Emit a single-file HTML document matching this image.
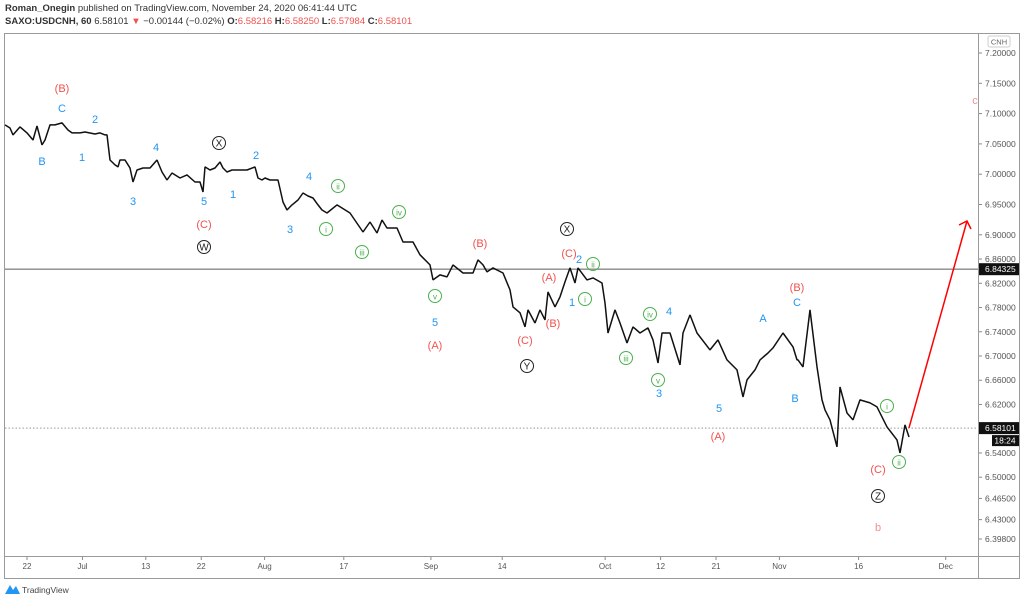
<!DOCTYPE html>
<html><head><meta charset="utf-8">
<style>
html,body{margin:0;padding:0;background:#fff;width:1024px;height:600px;overflow:hidden}
body{font-family:"Liberation Sans",sans-serif}
#hdr1{position:absolute;left:5px;top:3px;font-size:9.5px;color:#333}
#hdr2{position:absolute;left:5px;top:16px;font-size:9.5px;color:#333}
.r{color:#f0524f}
svg{position:absolute;left:0;top:0}
</style></head><body>
<div id="hdr1"><b>Roman_Onegin</b> published on TradingView.com, November 24, 2020 06:41:44 UTC</div>
<div id="hdr2"><b>SAXO:USDCNH, 60</b> 6.58101 <span class="r">▼</span> −0.00144 (−0.02%) <b>O:</b><span class="r">6.58216</span> <b>H:</b><span class="r">6.58250</span> <b>L:</b><span class="r">6.57984</span> <b>C:</b><span class="r">6.58101</span></div>
<svg id="chart" width="1024" height="600"></svg>
<script>
// trading-day index since Jun 22 and prices
const tradingDays=[-2.78,-2.15,-1.77,-0.88,0,0.76,1.26,1.89,2.27,2.90,3.54,4.42,5.18,5.68,6.69,7.32,8.59,9.22,9.85,10.10,10.48,11.11,11.49,11.74,12.37,13.01,13.38,13.89,14.65,15.53,16.41,17.05,17.68,18.31,19.32,20.20,21.21,21.84,22.22,22.47,23.11,23.74,24.37,24.75,25.25,25.88,26.89,27.78,28.79,29.17,29.67,30.05,30.68,31.69,32.32,32.83,33.46,34.22,34.85,35.48,36.11,36.74,37.25,37.88,39.14,40.78,42.42,43.31,44.19,44.82,45.45,46.72,47.47,48.74,49.62,50.88,51.26,52.15,53.03,53.79,55.05,56.31,56.94,57.58,58.08,58.84,60.10,60.98,61.36,62.25,62.88,63.26,64.14,64.77,65.40,65.78,66.67,67.30,67.93,68.56,69.19,69.57,70.71,71.46,72.60,72.98,73.36,74.24,74.87,75.76,76.52,77.40,78.41,79.04,79.67,80.18,81.19,82.45,82.83,83.71,84.60,86.24,87.25,88.38,89.65,90.40,90.91,91.92,92.55,93.56,94.19,95.45,96.72,97.22,97.35,97.98,98.86,99.75,100.38,100.76,101.39,102.27,102.65,103.54,104.29,105.18,106.44,107.32,108.59,109.85,110.23,110.86,111.36];
const prices=[7.0813,7.0763,7.0648,7.0780,7.0681,7.0565,7.0796,7.0483,7.0565,7.0813,7.0813,7.0846,7.073,7.0681,7.0681,7.0697,7.0664,7.0681,7.0648,7.0648,7.0235,7.0153,7.012,7.0235,7.0235,7.0103,6.9872,7.007,7.0103,7.0103,7.0235,7.0037,6.9905,7.002,6.9938,6.9988,6.9872,6.9872,6.9707,7.012,7.007,7.0103,7.0202,7.0103,7.0037,7.007,7.007,7.007,7.012,6.9938,6.9905,6.9938,6.9905,6.9905,6.9542,6.941,6.9493,6.9575,6.969,6.9641,6.9608,6.9493,6.941,6.936,6.9493,6.936,6.9047,6.9212,6.903,6.9245,6.9113,6.9113,6.8882,6.8882,6.867,6.8503,6.8255,6.8338,6.8305,6.8503,6.837,6.837,6.8585,6.8503,6.8387,6.8453,6.837,6.809,6.781,6.7713,6.748,6.776,6.7545,6.776,6.7595,6.8057,6.781,6.7975,6.8222,6.8453,6.8205,6.8453,6.8255,6.8288,6.8205,6.7875,6.738,6.776,6.7545,6.7215,6.748,6.738,6.7463,6.7265,6.6885,6.738,6.738,6.6853,6.738,6.7678,6.738,6.71,6.7265,6.6935,6.677,6.6325,6.6605,6.677,6.6935,6.705,6.7133,6.738,6.7150,6.6935,6.6935,6.682,6.7760,6.682,6.6275,6.611,6.5945,6.5500,6.649,6.606,6.5945,6.6275,6.6226,6.616,6.583,6.5615,6.54,6.5863,6.5663,6.55,6.5813,6.5813];
const priceTicks=[7.25,7.20,7.15,7.10,7.05,7.00,6.95,6.90,6.86,6.82,6.78,6.74,6.70,6.66,6.62,6.54,6.50,6.465,6.43,6.398];
const dateTickLabels=["22","Jul","13","22","Aug","17","Sep","14","Oct","12","21","Nov","16","Dec"];
const dateTickDays=[0,7,15,22,30,40,51,60,73,80,87,95,105,116];
const lastPrice=6.58101, levelPrice=6.84325;

const NS="http://www.w3.org/2000/svg";
const svg=document.getElementById('chart');
const X=t=>27+7.92*t;
const Y=p=>53+(7.2-p)*606;
function mk(tag,attrs,parent){const e=document.createElementNS(NS,tag);for(const k in attrs)e.setAttribute(k,attrs[k]);(parent||svg).appendChild(e);return e;}
function txt(x,y,s,fill,size,anchor){const e=mk('text',{x:x,y:y,fill:fill,'font-size':size,'text-anchor':anchor||'middle','font-family':'Liberation Sans, sans-serif'});e.textContent=s;return e;}

let f=mk('rect',{x:4.5,y:33.5,width:1015,height:545,fill:'none',stroke:'#9a9a9a'});


let ax=mk('line',{x1:978.5,y1:33,x2:978.5,y2:579,stroke:'#9a9a9a'});


let bx=mk('line',{x1:4,y1:556.5,x2:1020,y2:556.5,stroke:'#9a9a9a'});



priceTicks.forEach(p=>{const y=Y(p);if(y<36)return;
 const l=mk('line',{x1:979,y1:y,x2:982,y2:y,stroke:'#888'});
 
 
 const t=txt(985,y+3,p.toFixed(p===6.465||p===6.398?3:2)+(p===6.465||p===6.398?'00':'000'),'#555',8.5,'start');
 
 
});
let cb=mk('rect',{x:988,y:36,width:22,height:11,fill:'#fff',stroke:'#ccc',rx:2});


let ct=txt(999,44.5,'CNH','#666',7.5);



dateTickDays.forEach((d,i)=>{const x=X(d);
 const l=mk('line',{x1:x,y1:557,x2:x,y2:560,stroke:'#888'});
 
 
 const t=txt(x,569,dateTickLabels[i],'#555',8);
 
 
});

let hl=mk('line',{x1:5,y1:Y(levelPrice),x2:978,y2:Y(levelPrice),stroke:'#888','stroke-width':1.3});


let dl=mk('line',{x1:5,y1:Y(lastPrice),x2:978,y2:Y(lastPrice),stroke:'#999','stroke-dasharray':'1.5 2'});



let d='';tradingDays.forEach((t,i)=>{d+=(i?'L':'M')+X(t).toFixed(1)+' '+Y(prices[i]).toFixed(1);});
let pl=mk('path',{d:d,fill:'none',stroke:'#111','stroke-width':1.5,'stroke-linejoin':'bevel'});



const lastT=tradingDays[tradingDays.length-1], lp=prices[prices.length-1];
const ex=967, ey=221;
let ar=mk('path',{d:`M${X(lastT)} ${Y(lp)}L${ex} ${ey}M${ex-8} ${ey+4}L${ex} ${ey}L${ex+4} ${ey+8}`,fill:'none',stroke:'#f00','stroke-width':1.5});



let b1=mk('rect',{x:979,y:Y(levelPrice)-6,width:40,height:12,fill:'#111'});


let b1t=txt(985,Y(levelPrice)+3,'6.84325','#fff',8.5,'start');


let b2=mk('rect',{x:979,y:Y(lastPrice)-6,width:40,height:12,fill:'#111'});


let b2t=txt(985,Y(lastPrice)+3,'6.58101','#fff',8.5,'start');


let b3=mk('rect',{x:992,y:Y(lastPrice)+7,width:27,height:11,fill:'#111'});


let b3t=txt(1005,Y(lastPrice)+15.5,'18:24','#fff',8.5);



const R='#f0524f',B='#2196f3',G='#4caf50',K='#222',P='#f48f8f';
const labels=[[62,88,'(B)',R],[62,108,'C',B],[42,161,'B',B],[82,157,'1',B],[95,119,'2',B],[133,201,'3',B],[156,147,'4',B],[204,201,'5',B],[204,224,'(C)',R],[204,247,'W','c'],[219,143,'X','c'],[233,194,'1',B],[256,155,'2',B],[309,176,'4',B],[290,229,'3',B],[338,186,'ii','g'],[326,229,'i','g'],[399,212,'iv','g'],[362,252,'iii','g'],[435,296,'v','g'],[435,322,'5',B],[435,345,'(A)',R],[480,243,'(B)',R],[567,229,'X','c'],[569,253,'(C)',R],[579,259,'2',B],[593,264,'ii','g'],[549,277,'(A)',R],[572,302,'1',B],[585,299,'i','g'],[553,323,'(B)',R],[525,340,'(C)',R],[527,366,'Y','c'],[650,314,'iv','g'],[669,311,'4',B],[626,358,'iii','g'],[658,380,'v','g'],[659,393,'3',B],[719,408,'5',B],[718,436,'(A)',R],[763,318,'A',B],[797,287,'(B)',R],[797,302,'C',B],[795,398,'B',B],[887,406,'i','g'],[899,462,'ii','g'],[878,469,'(C)',R],[878,496,'Z','c'],[878,527,'b',P],[975,100,'c',P]];
labels.forEach(l=>{const [x,y,s,c]=l;
 if(c==='g'||c==='c'){const col=c==='g'?G:K;
  const ci=mk('circle',{cx:x,cy:y,r:6.5,fill:'none',stroke:col,'stroke-width':1});
  
  
  const t=txt(x,y+3.5,s,col,c==='g'?8:10);
  
  
 } else {
  const t=txt(x,y+4,s,c,11);
  
  
 }
});

let lg=mk('path',{d:'M5 594L10 585L13 590L16 586L20 594Z',fill:'#2196f3'});


let lt=txt(22,593,'TradingView','#444',8.5,'start');


</script>
</body></html>
